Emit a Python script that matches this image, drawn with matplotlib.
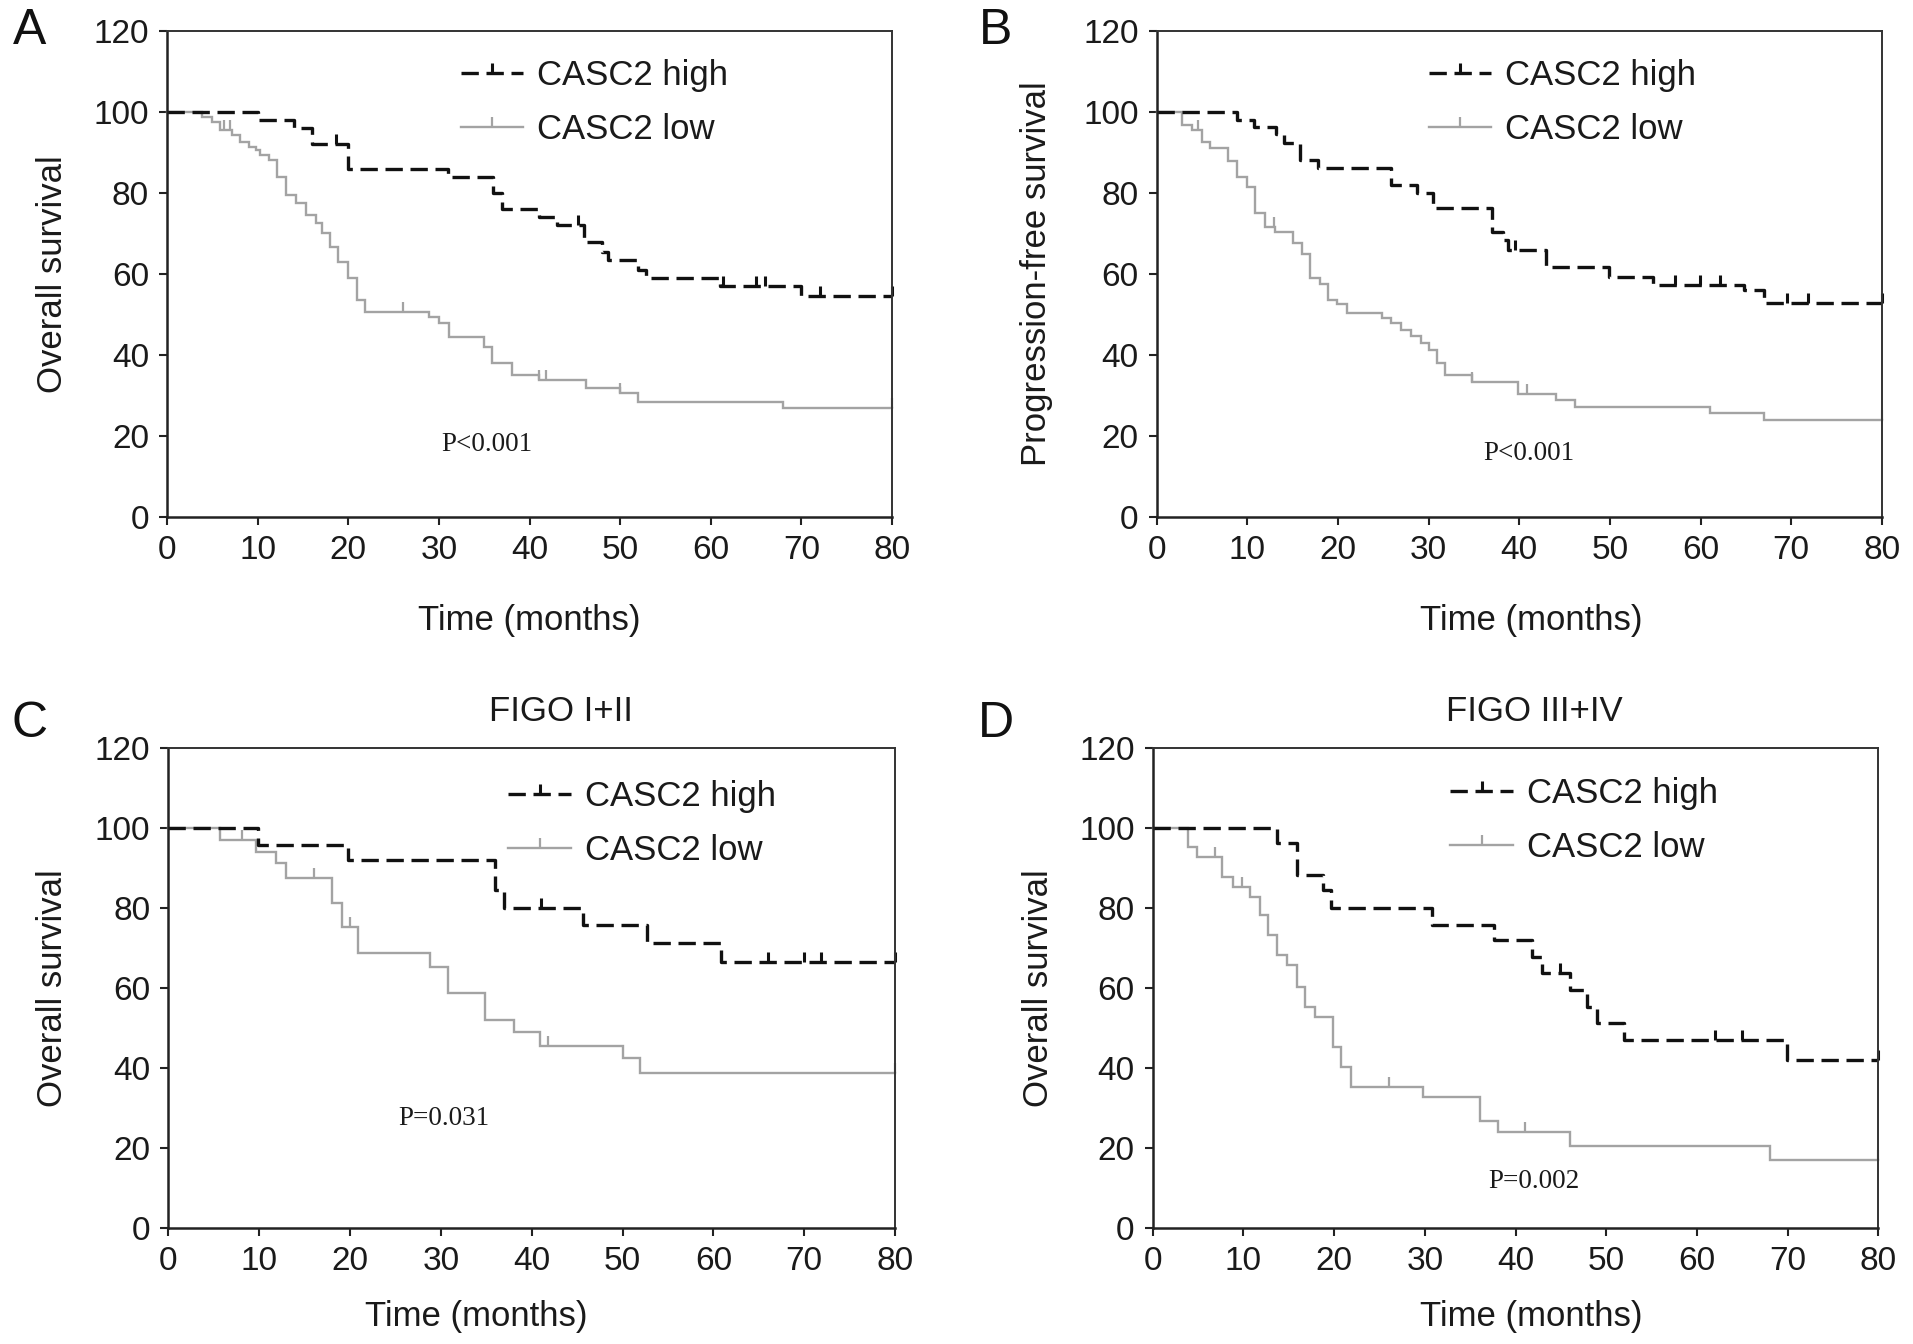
import numpy as np
import matplotlib
matplotlib.use("Agg")
import matplotlib.pyplot as plt
from matplotlib.lines import Line2D

plt.rcParams['font.family'] = ['Liberation Sans', 'DejaVu Sans']

# ---------------- data ----------------
# Panel A: overall survival
a_high_t = [0, 10, 14, 16, 20, 31, 36, 37, 41, 43, 46, 48, 48.7, 52, 52.8, 61, 70]
a_high_s = [100, 98, 96, 92, 86, 84, 80, 76, 74, 72, 68, 65.5, 63.5, 61, 59, 57, 54.5]
a_high_c = [18.6, 45.4, 61.3, 65, 66, 72, 80]
a_low_t = [0, 3.9, 5, 5.9, 7.2, 8.1, 9, 9.8, 10.3, 11.2, 12.1, 13.1, 14.2, 15.3, 16.4, 17.1,
           18, 18.9, 20, 21, 21.9, 28.9, 30, 31.1, 35, 35.9, 38.1, 41, 46.2, 50, 52, 68]
a_low_s = [100, 98.7, 97.6, 95.6, 94.3, 92.7, 91.4, 90.6, 89.4, 88.1, 84, 79.5, 77.5, 74.6, 72.6, 70.1,
           66.7, 63, 59, 53.6, 50.7, 49.5, 47.9, 44.5, 42, 38, 35, 33.8, 31.8, 30.6, 28.5, 26.9]
a_low_c = [6.3, 7, 26, 41, 41.8, 50, 80]

# Panel B: progression-free survival
b_high_t = [0, 8.8, 10.7, 13.2, 14, 15.8, 17.8, 25.8, 28.7, 30.5, 37, 38.2, 38.8, 42.9, 49.9, 54.8, 64.8, 67]
b_high_s = [100, 98, 96.4, 94.7, 92.3, 88.1, 86.1, 82, 80, 76.2, 70.4, 68.3, 66, 61.8, 59.3, 57.3, 56, 52.8]
b_high_c = [39.5, 57.2, 59.9, 62.2, 69.5, 71.9, 80]
b_low_t = [0, 2.8, 3.9, 5, 5.9, 7.9, 8.8, 9.9, 10.8, 11.9, 13, 15, 16, 16.9, 18, 18.9,
           19.9, 21, 24.8, 25.8, 26.9, 28, 29.1, 30, 30.9, 31.8, 34.8, 39.9, 44, 46.2, 61, 67]
b_low_s = [100, 96.8, 95.6, 92.7, 91, 88, 84, 81.6, 75, 71.7, 70.4, 67.6, 65, 58.9, 57.6, 53.6,
           52.5, 50.3, 49.2, 48, 46.2, 44.6, 43, 41.3, 38, 35.1, 33.4, 30.5, 28.9, 27.2, 25.6, 24]
b_low_c = [4.5, 12.9, 34.8, 40.8, 80]

# Panel C: FIGO I+II overall survival
c_high_t = [0, 9.9, 19.8, 36, 36.9, 45.6, 52.7, 60.8]
c_high_s = [100, 95.8, 92.1, 84.6, 80, 75.8, 71.25, 66.7]
c_high_c = [41, 66, 70, 71.8, 80]
c_low_t = [0, 5.7, 9.7, 11.8, 12.9, 18, 19.1, 20.9, 28.8, 30.8, 34.9, 38, 40.9, 50, 51.9]
c_low_s = [100, 97.1, 94.2, 91.25, 87.7, 81.25, 75.4, 68.75, 65.4, 58.75, 52.1, 49.2, 45.6, 42.5, 38.75]
c_low_c = [8.1, 16, 20, 41.8, 80]

# Panel D: FIGO III+IV overall survival
d_high_t = [0, 13.7, 15.9, 18.8, 19.7, 30.8, 37.6, 41.8, 42.9, 46, 47.9, 49, 51.9, 69.9]
d_high_s = [100, 96.25, 88.3, 84.6, 80, 75.8, 72.1, 67.9, 63.75, 59.6, 55.4, 51.25, 47.1, 42.1]
d_high_c = [44.9, 62, 65, 80]
d_low_t = [0, 3.9, 4.9, 7.6, 8.9, 10.7, 11.8, 12.7, 13.7, 14.8, 15.9, 16.8, 17.9, 19.9, 20.8,
           21.9, 29.8, 36.1, 38.1, 46, 68]
d_low_s = [100, 95.4, 92.9, 87.9, 85.4, 82.9, 78.3, 73.3, 68.3, 65.8, 60.4, 55.4, 52.9, 45.4, 40.4,
           35.4, 32.9, 26.7, 24, 20.5, 17]
d_low_c = [6.9, 9.8, 26, 41, 80]

panel_letters = ["A", "B", "C", "D"]
ylabels = ["Overall survival", "Progression-free survival", "Overall survival", "Overall survival"]
titles = ["", "", "FIGO I+II", "FIGO III+IV"]
pvalues = ["P<0.001", "P<0.001", "P=0.031", "P=0.002"]
legend_labels = ["CASC2 high", "CASC2 low"]
xticks = [0, 10, 20, 30, 40, 50, 60, 70, 80]
yticks = [0, 20, 40, 60, 80, 100, 120]
T_MAX = 80

# ---------------- styling ----------------
HIGH_COLOR = "#111111"
LOW_COLOR = "#a3a3a3"
HIGH_LW = 2.4
LOW_LW = 1.7
HIGH_DASH = (0, (5.2, 2.3))
TXT = "#1a1a1a"

fig = plt.figure(figsize=(19.13, 13.44), dpi=100)

# axes rectangles [left, bottom, width, height] in figure fractions
rects = [
    [0.0873, 0.6153, 0.3790, 0.3616],
    [0.6047, 0.6153, 0.3790, 0.3616],
    [0.0880, 0.0861, 0.3799, 0.3571],
    [0.6026, 0.0861, 0.3793, 0.3571],
]
pv_pos = [(35.3, 17.8), (41.1, 15.7), (30.3, 27.5), (42.0, 11.6)]
leg_pos = [(0.405, 0.942), (0.375, 0.942), (0.468, 0.933), (0.410, 0.940)]
ylab_x = [-0.158, -0.166, -0.159, -0.157]
xlab_pos = [(0.5, -0.212), (0.517, -0.212), (0.424, -0.184), (0.522, -0.184)]
title_x = [0.5, 0.5, 0.54, 0.526]
letter_pos = [(30, 31), (996, 31), (30, 724), (996, 724)]

data = [
    (a_high_t, a_high_s, a_high_c, a_low_t, a_low_s, a_low_c),
    (b_high_t, b_high_s, b_high_c, b_low_t, b_low_s, b_low_c),
    (c_high_t, c_high_s, c_high_c, c_low_t, c_low_s, c_low_c),
    (d_high_t, d_high_s, d_high_c, d_low_t, d_low_s, d_low_c),
]


def km(ax, t, s, c, color, lw, ls, mew):
    tt = list(t) + [T_MAX]
    ss = list(s) + [s[-1]]
    ax.step(tt, ss, where="post", color=color, lw=lw, linestyle=ls, clip_on=False,
            solid_joinstyle="miter", dash_capstyle="butt")
    t_arr = np.asarray(t)
    s_arr = np.asarray(s)
    idx = np.searchsorted(t_arr, np.asarray(c), side="right") - 1
    ax.plot(c, s_arr[idx], linestyle="none", marker=2, markersize=7,
            markeredgewidth=mew, color=color, clip_on=False)


for i, (ht, hs, hc, lt, ls_, lc) in enumerate(data):
    ax = fig.add_axes(rects[i])
    km(ax, lt, ls_, lc, LOW_COLOR, LOW_LW, "-", 1.6)
    km(ax, ht, hs, hc, HIGH_COLOR, HIGH_LW, HIGH_DASH, 2.2)

    ax.set_xlim(0, 80)
    ax.set_ylim(0, 120)
    ax.set_xticks(xticks)
    ax.set_yticks(yticks)
    ax.tick_params(axis="both", direction="out", length=6, width=1.5, labelsize=24,
                   pad=7, color="#222222", labelcolor=TXT)
    for side in ["left", "bottom"]:
        ax.spines[side].set_linewidth(1.8)
        ax.spines[side].set_color("#222222")
    for side in ["top", "right"]:
        ax.spines[side].set_linewidth(1.4)
        ax.spines[side].set_color("#333333")

    ax.set_ylabel(ylabels[i], fontsize=25, color=TXT)
    ax.yaxis.label.set_verticalalignment("center")
    ax.yaxis.set_label_coords(ylab_x[i], 0.5)
    ax.set_xlabel("Time (months)", fontsize=25, color=TXT)
    ax.xaxis.label.set_verticalalignment("center")
    ax.xaxis.set_label_coords(*xlab_pos[i])

    if titles[i]:
        ax.text(title_x[i], 1.077, titles[i], transform=ax.transAxes, ha="center",
                va="center", fontsize=25, color=TXT)

    ax.text(pv_pos[i][0], pv_pos[i][1], pvalues[i], ha="center", va="center",
            fontsize=19.5, family=["Liberation Serif", "DejaVu Serif"], color=TXT)

    handles = [
        Line2D([0], [0], color=HIGH_COLOR, lw=HIGH_LW, linestyle=HIGH_DASH, marker=2,
               markersize=7, markeredgewidth=2.2),
        Line2D([0], [0], color=LOW_COLOR, lw=LOW_LW, marker=2, markersize=7,
               markeredgewidth=1.6),
    ]
    ax.legend(handles, legend_labels, loc="upper left", bbox_to_anchor=leg_pos[i],
              frameon=False, fontsize=25, handlelength=1.8, handletextpad=0.4,
              labelspacing=0.6, borderpad=0, borderaxespad=0, numpoints=1,
              labelcolor=TXT)

    fig.text(letter_pos[i][0] / 1913, 1 - letter_pos[i][1] / 1344, panel_letters[i],
             ha="center", va="center", fontsize=36, color="#111111")

fig.savefig("out.png", dpi=100)
